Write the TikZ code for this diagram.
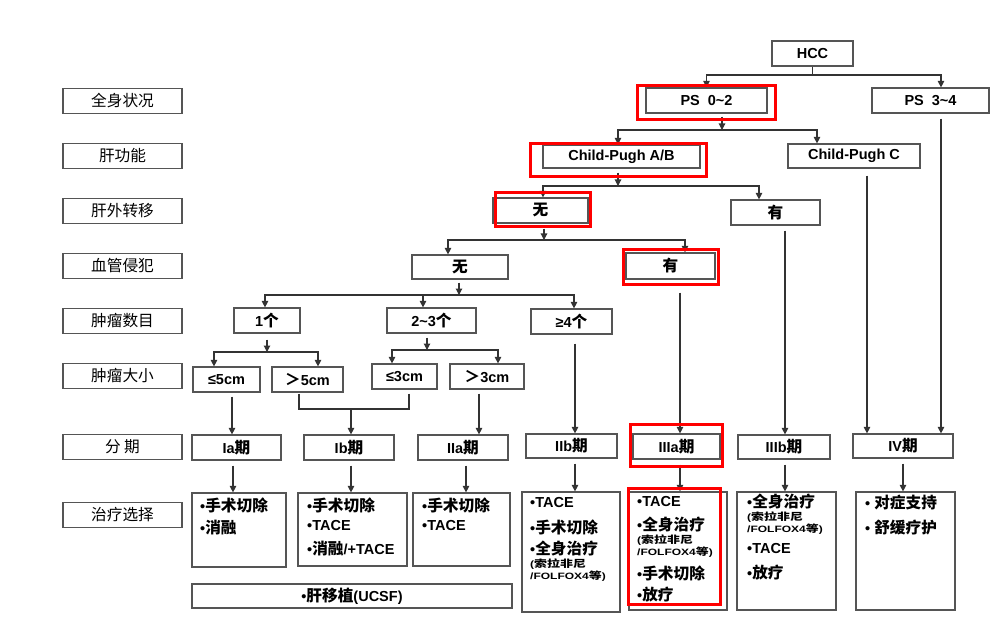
\documentclass[tikz,border=0pt]{standalone}
\usepackage{fontspec}
\setmainfont{Liberation Sans}
\newfontfamily\cjk{Noto Sans CJK SC}[Scale=1.08]
\usetikzlibrary{arrows.meta}
\newcommand\zh[1]{{\cjk #1}}
\newcommand\smtxt[1]{\scalebox{1.2}[0.92]{#1}}
\definecolor{lineC}{HTML}{333333}
\definecolor{boxC}{HTML}{555555}
\tikzset{
 ln/.style={draw=lineC, line width=1.1pt},
 arr/.style={ln, -{Triangle[length=6.5pt,width=6.5pt]}},
 bx/.style={draw=boxC, line width=1.2pt, inner sep=0pt, text=black,
   font=\fontsize{14.5}{17}\selectfont\bfseries},
 lab/.style={bx, minimum width=119pt, minimum height=25pt,
   font=\fontsize{14.5}{17}\selectfont},
 hl/.style={draw=red, line width=3pt},
 tx/.style={anchor=west, inner sep=0pt, font=\fontsize{14.5}{17}\selectfont\bfseries},
 sm/.style={anchor=west, inner sep=0pt, font=\fontsize{10}{11}\selectfont\bfseries},
}
\begin{document}
\begin{tikzpicture}[x=1pt,y=-1pt]
\useasboundingbox[fill=white] (0,0) rectangle (990,620);

% left labels
\node[lab] (l1) at (122.5,101) {\zh{全身状况}};
\node[lab] (l2) at (122.5,156) {\zh{肝功能}};
\node[lab] (l3) at (122.5,211) {\zh{肝外转移}};
\node[lab] (l4) at (122.5,266) {\zh{血管侵犯}};
\node[lab] (l5) at (122.5,321) {\zh{肿瘤数目}};
\node[lab] (l6) at (122.5,376) {\zh{肿瘤大小}};
\node[lab] (l7) at (122.5,447) {\zh{分\ 期}};
\node[lab] (l8) at (122.5,515) {\zh{治疗选择}};

% main nodes
\node[bx, minimum width=81pt, minimum height=25pt] (hcc) at (812.5,53.5) {HCC};
\node[bx, minimum width=121pt, minimum height=25pt] (ps02) at (706.5,100.5) {PS\ \ 0\textasciitilde 2};
\node[bx, minimum width=117pt, minimum height=25pt] (ps34) at (930.5,100.5) {PS\ \ 3\textasciitilde 4};
\node[bx, minimum width=157pt, minimum height=23pt] (cpab) at (621.5,156.5) {Child-Pugh A/B};
\node[bx, minimum width=132pt, minimum height=24pt] (cpc) at (854,156) {Child-Pugh C};
\node[bx, minimum width=95pt, minimum height=25pt] (exn) at (540.5,210.5) {\zh{无}};
\node[bx, minimum width=89pt, minimum height=25pt] (exy) at (775.5,212.5) {\zh{有}};
\node[bx, minimum width=96pt, minimum height=24pt] (vn) at (460,267) {\zh{无}};
\node[bx, minimum width=89pt, minimum height=26pt] (vy) at (670.5,266) {\zh{有}};
\node[bx, minimum width=66pt, minimum height=25pt] (n1) at (267,320.5) {1\zh{个}};
\node[bx, minimum width=89pt, minimum height=25pt] (n23) at (431.5,320.5) {2\textasciitilde 3\zh{个}};
\node[bx, minimum width=81pt, minimum height=25pt] (n4) at (571.5,321.5) {≥4\zh{个}};
\node[bx, minimum width=67pt, minimum height=25pt] (s5) at (226.5,379.5) {≤5cm};
\node[bx, minimum width=71pt, minimum height=25pt] (s5g) at (307.5,379.5) {\zh{＞}5cm};
\node[bx, minimum width=65pt, minimum height=25pt] (s3) at (404.5,376.5) {≤3cm};
\node[bx, minimum width=74pt, minimum height=25pt] (s3g) at (487,376.5) {\zh{＞}3cm};

% stages
\node[bx, minimum width=89pt, minimum height=25pt] (ia) at (236.5,447.5) {Ia\zh{期}};
\node[bx, minimum width=90pt, minimum height=25pt] (ib) at (349,447.5) {Ib\zh{期}};
\node[bx, minimum width=90pt, minimum height=25pt] (iia) at (463,447.5) {IIa\zh{期}};
\node[bx, minimum width=91pt, minimum height=24pt] (iib) at (571.5,446) {IIb\zh{期}};
\node[bx, minimum width=87pt, minimum height=25pt] (iiia) at (676.5,446.5) {IIIa\zh{期}};
\node[bx, minimum width=92pt, minimum height=24pt] (iiib) at (784,447) {IIIb\zh{期}};
\node[bx, minimum width=100pt, minimum height=24pt] (iv) at (903,446) {IV\zh{期}};

% treatment boxes
\node[bx, minimum width=94pt, minimum height=74pt] (tia) at (239,530) {};
\node[bx, minimum width=109pt, minimum height=73pt] (tib) at (352.5,529.5) {};
\node[bx, minimum width=97pt, minimum height=73pt] (tiia) at (461.5,529.5) {};
\node[bx, minimum width=98pt, minimum height=120pt] (tiib) at (571,552) {};
\node[bx, minimum width=98pt, minimum height=118pt] (tiiia) at (678,551) {};
\node[bx, minimum width=99pt, minimum height=118pt] (tiiib) at (786.5,551) {};
\node[bx, minimum width=99pt, minimum height=118pt] (tiv) at (905.5,551) {};
\node[bx, minimum width=320pt, minimum height=24pt] (tx) at (352,596) {•\zh{肝移植}(UCSF)};

% treatment texts
\node[tx] (a1) at (200,505) {•\zh{手术切除}};
\node[tx] (a2) at (200,528) {•\zh{消融}};
\node[tx] (b1t) at (307,505) {•\zh{手术切除}};
\node[tx] (b2t) at (307,526) {•TACE};
\node[tx] (b3t) at (307,549) {•\zh{消融}/+TACE};
\node[tx] (c1) at (422,505) {•\zh{手术切除}};
\node[tx] (c2) at (422,526) {•TACE};
\node[tx] (d1) at (530,503) {•TACE};
\node[tx] (d2) at (530,527) {•\zh{手术切除}};
\node[tx] (d3) at (530,549) {•\zh{全身治疗}};
\node[sm] (d4) at (530,564) {\smtxt{(\zh{索拉非尼}}};
\node[sm] (d5) at (530,576) {\smtxt{/FOLFOX4\zh{等})}};
\node[tx] (e1) at (637,502) {•TACE};
\node[tx] (e2) at (637,525) {•\zh{全身治疗}};
\node[sm] (e3) at (637,540) {\smtxt{(\zh{索拉非尼}}};
\node[sm] (e4) at (637,552) {\smtxt{/FOLFOX4\zh{等})}};
\node[tx] (e5) at (637,573) {•\zh{手术切除}};
\node[tx] (e6) at (637,595) {•\zh{放疗}};
\node[tx] (f1) at (747,502) {•\zh{全身治疗}};
\node[sm] (f2) at (747,517) {\smtxt{(\zh{索拉非尼}}};
\node[sm] (f3) at (747,529) {\smtxt{/FOLFOX4\zh{等})}};
\node[tx] (f4) at (747,549) {•TACE};
\node[tx] (f5) at (747,573) {•\zh{放疗}};
\node[tx] (g1) at (865,503) {•\ \zh{对症支持}};
\node[tx] (g2) at (865,527) {•\ \zh{舒缓疗护}};

% bus coordinates
\coordinate (bu0) at (812.5,75);
\coordinate (bu1) at (722,130);
\coordinate (bu2) at (618,186);
\coordinate (bu3) at (544,240);
\coordinate (bu4) at (459,295);
\coordinate (bu5) at (267,352);
\coordinate (bu6) at (427,350);
\coordinate (jn) at (351,409);

% connectors
\draw[ln] (hcc.south) -- (bu0);
\draw[arr] (bu0) -| (ps02.north);
\draw[arr] (bu0) -| ([xshift=10.5pt]ps34.north);

\draw[arr] ([xshift=15.5pt,yshift=-3pt]ps02.south) -- (bu1);
\draw[arr] (bu1) -| ([xshift=-3.5pt]cpab.north);
\draw[arr] (bu1) -| ([xshift=-37pt]cpc.north);

\draw[arr] ([xshift=-3.5pt,yshift=-4pt]cpab.south) -- (bu2);
\draw[arr] (bu2) -| ([xshift=2.5pt]exn.north);
\draw[arr] (bu2) -| ([xshift=-16.5pt]exy.north);

\draw[arr] ([xshift=3.5pt,yshift=-5pt]exn.south) -- (bu3);
\draw[arr] (bu3) -| ([xshift=-12pt]vn.north);
\draw[arr] (bu3) -| ([xshift=14.5pt]vy.north);

\draw[arr] ([xshift=-1pt,yshift=-3pt]vn.south) -- (bu4);
\draw[arr] (bu4) -| ([xshift=-2pt]n1.north);
\draw[arr] (bu4) -| ([xshift=-8.5pt]n23.north);
\draw[arr] (bu4) -| ([xshift=2.5pt]n4.north);

\draw[arr] ([yshift=-6pt]n1.south) -- (bu5);
\draw[arr] (bu5) -| ([xshift=-12.5pt]s5.north);
\draw[arr] (bu5) -| ([xshift=10.5pt]s5g.north);

\draw[arr] ([xshift=-4.5pt,yshift=-4pt]n23.south) -- (bu6);
\draw[arr] (bu6) -| ([xshift=-12.5pt]s3.north);
\draw[arr] (bu6) -| ([xshift=11pt]s3g.north);

% long lines
\draw[arr] ([xshift=10.5pt,yshift=-5pt]ps34.south) -- ([xshift=38pt]iv.north);
\draw[arr] ([xshift=13pt,yshift=-7pt]cpc.south) -- ([xshift=-36pt]iv.north);
\draw[arr] ([xshift=9.5pt,yshift=-5pt]exy.south) -- ([xshift=1pt]iiib.north);
\draw[arr] ([xshift=9.5pt,yshift=-13pt]vy.south) -- ([xshift=3.5pt]iiia.north);
\draw[arr] ([xshift=3.5pt,yshift=-9pt]n4.south) -- ([xshift=3.5pt]iib.north);
\draw[arr] ([xshift=5.5pt,yshift=-4pt]s5.south) -- ([xshift=-4.5pt]ia.north);
\draw[ln] ([xshift=-8.5pt,yshift=-1pt]s5g.south) |- (jn);
\draw[ln] ([xshift=4.5pt,yshift=-4pt]s3.south) |- (jn);
\draw[arr] (jn) -- ([xshift=2pt]ib.north);
\draw[arr] ([xshift=-8pt,yshift=-4pt]s3g.south) -- ([xshift=16pt]iia.north);

% stage -> treatment
\draw[arr] ([xshift=-3.5pt,yshift=-5pt]ia.south) -- ([xshift=-6pt]tia.north);
\draw[arr] ([xshift=2pt,yshift=-5pt]ib.south) -- ([xshift=-1.5pt]tib.north);
\draw[arr] ([xshift=3pt,yshift=-5pt]iia.south) -- ([xshift=4.5pt]tiia.north);
\draw[arr] ([xshift=3.5pt,yshift=-5pt]iib.south) -- ([xshift=4pt]tiib.north);
\draw[arr] ([xshift=3.5pt,yshift=-5pt]iiia.south) -- ([xshift=2pt]tiiia.north);
\draw[arr] ([xshift=1pt,yshift=-5pt]iiib.south) -- ([xshift=-1.5pt]tiiib.north);
\draw[arr] ([yshift=-5pt]iv.south) -- ([xshift=-2.5pt]tiv.north);

% red highlights
\draw[hl] (637,86) rectangle (775,120);
\draw[hl] (530,144) rectangle (706,177);
\draw[hl] (495,193) rectangle (590,227);
\draw[hl] (623,250) rectangle (718,284);
\draw[hl] (630,424) rectangle (722,466);
\draw[hl] (628,488) rectangle (720,604);
\end{tikzpicture}
\end{document}
